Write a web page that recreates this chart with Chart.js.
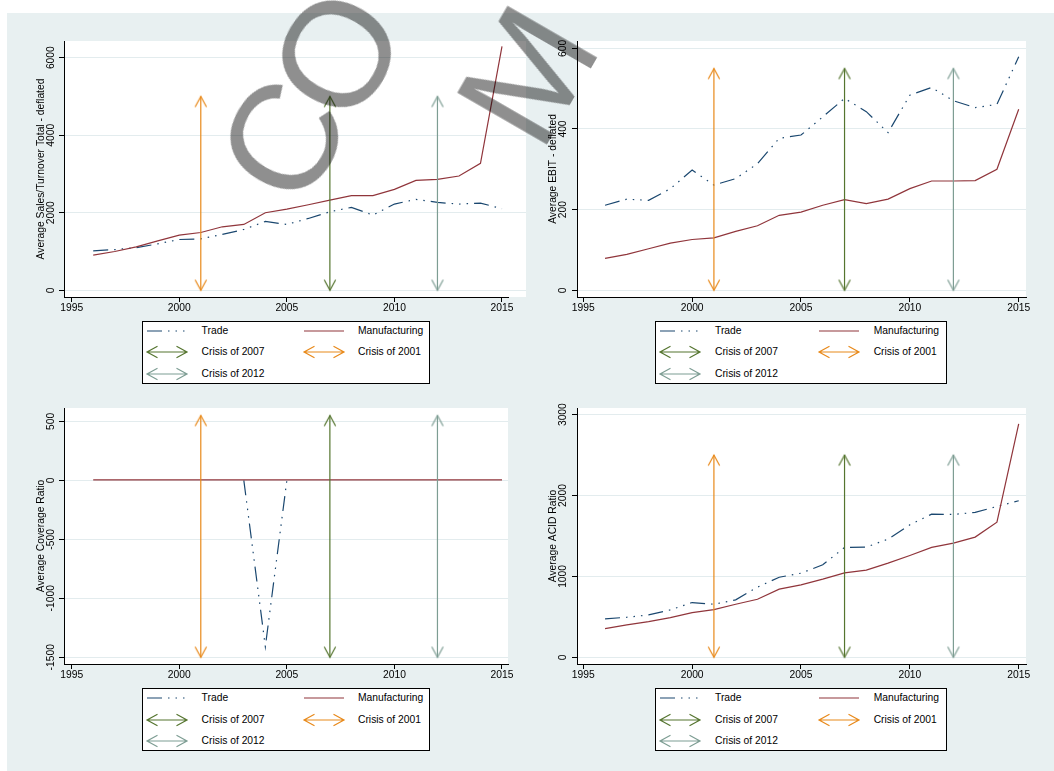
<!DOCTYPE html>
<html><head><meta charset="utf-8">
<script src="https://cdn.jsdelivr.net/npm/chart.js"></script>
<style>
html,body{margin:0;padding:0;background:#fff;}
body{width:1054px;height:771px;position:relative;overflow:hidden;font-family:"Liberation Sans",Arial,sans-serif;}
#bg{position:absolute;left:7px;top:13px;width:1047px;height:758px;background:#e8f0f1;}
canvas{position:absolute;}
.legend{position:absolute;background:#fff;border:1px solid #000;box-sizing:border-box;}
.legend svg{position:absolute;overflow:visible;}
.legend span{position:absolute;font-size:10.3px;line-height:14px;height:14px;color:#000;white-space:nowrap;}
.wm{position:absolute;font-family:"Liberation Sans",Arial,sans-serif;font-size:150px;line-height:1;color:#8f8f8f;mix-blend-mode:multiply;transform:translate(-50%,-50%) rotate(-60deg);pointer-events:none;}
</style></head>
<body>
<div id="bg"></div>
<canvas id="c1" width="530" height="330" style="left:0px;top:0px"></canvas>
<canvas id="c2" width="524" height="330" style="left:530px;top:0px"></canvas>
<canvas id="c3" width="530" height="300" style="left:0px;top:390px"></canvas>
<canvas id="c4" width="524" height="300" style="left:530px;top:390px"></canvas>
<div id="lg1" class="legend" style="left:142px;top:321px;width:288px;height:63px"></div>
<div id="lg2" class="legend" style="left:655px;top:321px;width:292px;height:63px"></div>
<div id="lg3" class="legend" style="left:142px;top:688px;width:288px;height:63px"></div>
<div id="lg4" class="legend" style="left:655px;top:688px;width:292px;height:63px"></div>
<div class="wm" style="left:283px;top:140px">C</div>
<div class="wm" style="left:337px;top:54px">O</div>
<div class="wm" style="left:527px;top:75px">M</div>
<script>
// ---------------- data ----------------
const years = [1996,1997,1998,1999,2000,2001,2002,2003,2004,2005,2006,2007,2008,2009,2010,2011,2012,2013,2014,2015];
const salesTrade = [1017,1050,1100,1198,1310,1327,1440,1569,1776,1698,1853,2026,2138,1940,2224,2345,2267,2224,2250,2103];
const salesManuf = [905,1000,1120,1276,1422,1491,1638,1698,2000,2095,2207,2327,2440,2440,2603,2836,2862,2948,3276,6293];
const ebitTrade = [211,226,223,252,298,261,277,314,377,385,430,476,443,391,484,503,470,453,461,579];
const ebitManuf = [79,89,103,117,126,130,146,160,186,194,211,225,215,226,252,271,271,272,300,449];
const coverTrade = [null,null,null,null,null,null,null,0,-1410,0,null,null,null,null,null,null,null,null,null,null];
const coverManuf = [4,4,4,4,4,4,4,4,4,4,4,4,4,4,4,4,4,4,4,4];
const acidTrade = [475,495,524,586,677,656,710,867,990,1040,1143,1358,1362,1461,1638,1770,1766,1791,1865,1935];
const acidManuf = [355,400,442,491,553,590,656,718,842,896,966,1044,1077,1164,1259,1358,1411,1486,1671,2885];
const xTickLabels = [1995,2000,2005,2010,2015];
const yTicksSales = [0,2000,4000,6000];
const yTicksEbit = [0,200,400,600];
const yTicksCover = [-1500,-1000,-500,0,500];
const yTicksAcid = [0,1000,2000,3000];
const seriesNames = ['Trade','Manufacturing'];
const crisisYears = [2007,2001,2012];
const crisisNames = ['Crisis of 2007','Crisis of 2001','Crisis of 2012'];
const arrowSales = [0,5000];
const arrowEbit = [0,550];
const arrowCover = [-1500,550];
const arrowAcid = [0,2500];
const titles = ['Average Sales/Turnover Total - deflated','Average EBIT - deflated','Average Coverage Ratio','Average ACID Ratio'];

// ---------------- styles ----------------
const COL_TRADE = '#1a476f', COL_MANUF = '#90353b';
const COL_CRISIS = ['#55752f','#e8891a','#7d9d93'];
const TRADE_DASH = [15,6,1.5,6,1.5,6,1.5,6];
const GRID = '#e3ecee';
Chart.defaults.font.family = '"Liberation Sans", Arial, sans-serif';
Chart.defaults.font.size = 10.3;
Chart.defaults.color = '#000';

function arrowImg(color, up){
  const c = document.createElement('canvas'); c.width = 16; c.height = 26;
  const g = c.getContext('2d'); g.strokeStyle = color; g.lineWidth = 1.2;
  const s = up ? 1 : -1;
  g.beginPath(); g.moveTo(8-5.7, 13+s*10.5); g.lineTo(8, 13); g.lineTo(8+5.7, 13+s*10.5); g.stroke();
  return c;
}

const plotBg = {
  id:'plotBg',
  beforeDraw(chart, args, opts){
    const {ctx, chartArea:a} = chart;
    ctx.save(); ctx.fillStyle = '#fff';
    ctx.fillRect(a.left, a.top, a.right - a.left + (opts.ext||0), a.bottom - a.top);
    ctx.restore();
  },
  beforeDatasetsDraw(chart, args, opts){
    if(!opts.ext) return;
    const {ctx, chartArea:a, scales:{y}} = chart;
    ctx.save(); ctx.strokeStyle = GRID; ctx.lineWidth = 1;
    y.ticks.forEach(t => {
      const py = Math.round(y.getPixelForValue(t.value) - 0.5) + 0.5;
      ctx.beginPath(); ctx.moveTo(a.right, py); ctx.lineTo(a.right + opts.ext, py); ctx.stroke();
    });
    ctx.restore();
  }
};

function makeChart(id, cfg){
  const Wy = 40, Hx = 25;
  const datasets = [
    {label:seriesNames[0], data:years.map((yr,i)=>({x:yr,y:cfg.trade[i]})), borderColor:COL_TRADE, borderDash:TRADE_DASH, borderWidth:1.2, pointRadius:0, fill:false, spanGaps:false, order:10},
    {label:seriesNames[1], data:years.map((yr,i)=>({x:yr,y:cfg.manuf[i]})), borderColor:COL_MANUF, borderWidth:1.2, pointRadius:0, fill:false, order:9}
  ];
  crisisYears.forEach((cy,k)=>{
    const up = arrowImg(COL_CRISIS[k], true), dn = arrowImg(COL_CRISIS[k], false);
    datasets.push({label:crisisNames[k], data:[{x:cy,y:cfg.arrow[0]},{x:cy,y:cfg.arrow[1]}], borderColor:COL_CRISIS[k], borderWidth:1.2,
      pointRadius:3, pointStyle:(c)=> c.dataIndex===0 ? dn : up, fill:false, order:3-k});
  });
  return new Chart(document.getElementById(id), {
    type:'line',
    data:{datasets},
    options:{
      responsive:false, animation:false, events:[],
      layout:{padding:{left:cfg.L-cfg.cx-Wy, top:cfg.T-cfg.cy, right:cfg.cx+cfg.cw-cfg.R, bottom:cfg.cy+cfg.ch-cfg.B-Hx}},
      plugins:{legend:{display:false}, tooltip:{enabled:false}, plotBg:{ext:cfg.ext||0}},
      scales:{
        x:{type:'linear', min:cfg.xMin, max:cfg.xMax,
          afterBuildTicks:s=>{ s.ticks = xTickLabels.map(v=>({value:v})); },
          afterFit:s=>{ s.height = Hx; },
          ticks:{callback:v=>String(v), padding:0, maxRotation:0, minRotation:0, autoSkip:false, color:'#000'},
          grid:{drawOnChartArea:false, drawTicks:true, tickLength:5, tickColor:'#000', tickWidth:1},
          border:{display:true, color:'#000', width:1}},
        y:{type:'linear', min:cfg.yMin, max:cfg.yMax,
          afterBuildTicks:s=>{ s.ticks = cfg.yTicks.map(v=>({value:v})); },
          afterFit:s=>{ s.width = Wy; },
          ticks:{callback:v=>String(v), padding:cfg.tickPad, minRotation:90, maxRotation:90, crossAlign:'center', autoSkip:false, color:'#000'},
          grid:{color:GRID, lineWidth:1, drawTicks:true, tickLength:5, tickColor:'#000', tickWidth:1},
          border:{display:true, color:'#000', width:1},
          title:{display:true, text:cfg.title, color:'#000', padding:{top:cfg.titlePad, bottom:0}}}
      }
    },
    plugins:[plotBg]
  });
}

makeChart('c1', {cx:0, cy:0, cw:530, ch:330, L:64, T:41, R:508, B:297, xMin:1994.642, xMax:2015.279, yMin:-173, yMax:6430,
  yTicks:yTicksSales, title:titles[0], trade:salesTrade, manuf:salesManuf, arrow:arrowSales, tickPad:-3.2, titlePad:10.6, ext:18});
makeChart('c2', {cx:530, cy:0, cw:524, ch:330, L:577, T:41, R:1026, B:297, xMin:1994.711, xMax:2015.335, yMin:-16.6, yMax:618.2,
  yTicks:yTicksEbit, title:titles[1], trade:ebitTrade, manuf:ebitManuf, arrow:arrowEbit, tickPad:-0.19, titlePad:9.8});
makeChart('c3', {cx:0, cy:390, cw:530, ch:300, L:64, T:408, R:508, B:664, xMin:1994.642, xMax:2015.279, yMin:-1557, yMax:613.7,
  yTicks:yTicksCover, title:titles[2], trade:coverTrade, manuf:coverManuf, arrow:arrowCover, tickPad:-4.9, titlePad:10.6});
makeChart('c4', {cx:530, cy:390, cw:524, ch:300, L:577, T:408, R:1026, B:664, xMin:1994.711, xMax:2015.335, yMin:-83, yMax:3082,
  yTicks:yTicksAcid, title:titles[3], trade:acidTrade, manuf:acidManuf, arrow:arrowAcid, tickPad:-3.06, titlePad:9.6});

// ---------------- legends ----------------
function buildLegend(id, symX, txtX, rows){
  const el = document.getElementById(id);
  const items = [
    {name:seriesNames[0], kind:'line', color:COL_TRADE, dash:TRADE_DASH},
    {name:seriesNames[1], kind:'line', color:COL_MANUF},
    {name:crisisNames[0], kind:'arrow', color:COL_CRISIS[0]},
    {name:crisisNames[1], kind:'arrow', color:COL_CRISIS[1]},
    {name:crisisNames[2], kind:'arrow', color:COL_CRISIS[2]}
  ];
  const NS = 'http://www.w3.org/2000/svg';
  items.forEach((it,i)=>{
    const r = Math.floor(i/2), c = i%2;
    const yc = rows[r] - 1;
    const svg = document.createElementNS(NS,'svg');
    svg.setAttribute('width','40'); svg.setAttribute('height','14');
    svg.style.left = symX[c]+'px'; svg.style.top = (yc-7)+'px';
    const p = document.createElementNS(NS,'path');
    if(it.kind==='line'){
      p.setAttribute('d','M0,7 H40');
      if(it.dash) p.setAttribute('stroke-dasharray', it.dash.join(' '));
    } else {
      p.setAttribute('d','M0,7 H40 M10.5,1.3 L0,7 L10.5,12.7 M29.5,1.3 L40,7 L29.5,12.7');
    }
    p.setAttribute('fill','none'); p.setAttribute('stroke',it.color); p.setAttribute('stroke-width','1.2');
    svg.appendChild(p); el.appendChild(svg);
    const sp = document.createElement('span');
    sp.textContent = it.name; sp.style.left = txtX[c]+'px'; sp.style.top = (yc-7)+'px';
    el.appendChild(sp);
  });
}
buildLegend('lg1', [4.3,161], [58.6,215], [10.3,31.3,53.3]);
buildLegend('lg2', [4.3,162.7], [59,217.7], [10.3,31.3,53.3]);
buildLegend('lg3', [4.3,161], [58.6,215], [10,31.7,52.7]);
buildLegend('lg4', [4.3,162.7], [59,217.7], [10,31.7,52.7]);
</script>
</body></html>
